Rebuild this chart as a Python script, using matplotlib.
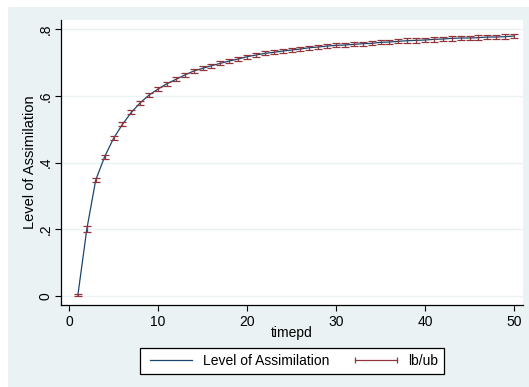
import matplotlib
matplotlib.use("Agg")
import matplotlib.pyplot as plt
from matplotlib.lines import Line2D
from matplotlib.patches import Rectangle

plt.rcParams['font.family'] = ['Liberation Sans', 'DejaVu Sans']

timepd = list(range(1, 51))
level = [0.003, 0.200, 0.347, 0.417, 0.472, 0.514, 0.550, 0.579, 0.602, 0.620,
         0.636, 0.649, 0.662, 0.674, 0.682, 0.690, 0.697, 0.704, 0.710, 0.717,
         0.722, 0.727, 0.730, 0.734, 0.737, 0.740, 0.744, 0.746, 0.749, 0.751,
         0.752, 0.754, 0.756, 0.757, 0.760, 0.761, 0.763, 0.765, 0.766, 0.767,
         0.769, 0.770, 0.772, 0.773, 0.773, 0.774, 0.776, 0.776, 0.777, 0.779]
halfwidth = [0.002, 0.009, 0.006, 0.006, 0.006, 0.006, 0.006, 0.006, 0.006, 0.006,
             0.006, 0.006, 0.006, 0.006, 0.006, 0.006, 0.006, 0.006, 0.006, 0.006,
             0.006, 0.006, 0.006, 0.006, 0.006, 0.006, 0.006, 0.006, 0.006, 0.006,
             0.006, 0.006, 0.006, 0.006, 0.006, 0.006, 0.006, 0.007, 0.007, 0.007,
             0.007, 0.007, 0.007, 0.007, 0.007, 0.007, 0.007, 0.007, 0.007, 0.007]
lb = [v - h for v, h in zip(level, halfwidth)]
ub = [v + h for v, h in zip(level, halfwidth)]

yticks = [0, 0.2, 0.4, 0.6, 0.8]
ytick_labels = ["0", ".2", ".4", ".6", ".8"]
xticks = [0, 10, 20, 30, 40, 50]

navy = "#1A476F"
maroon = "#90353B"
bg = "#EAF2F3"

W, H = 529, 387
fig = plt.figure(figsize=(W / 100, H / 100), dpi=100)
fig.patch.set_facecolor("white")
fig.patches.append(Rectangle((8 / W, 0), 1 - 8 / W, 1 - 7 / H, transform=fig.transFigure,
                             facecolor=bg, edgecolor="none", zorder=-10))

ax_l, ax_r, ax_t, ax_b = 61, 523, 20, 305
ax = fig.add_axes([ax_l / W, 1 - ax_b / H, (ax_r - ax_l) / W, (ax_b - ax_t) / H])
ax.set_facecolor("white")

xs = (514 - 69) / 50.0
ax.set_xlim(-(69 - ax_l) / xs, 50 + (ax_r - 514) / xs)
ys = (296 - 29) / 0.8
ax.set_ylim(-(ax_b - 296) / ys, 0.8 + (29 - ax_t) / ys)

for y in yticks:
    ax.axhline(y, color=bg, lw=1.0, zorder=0)

ax.plot(timepd, level, color=navy, lw=0.9, zorder=2)
ax.errorbar(timepd, level, yerr=[[v - l for v, l in zip(level, lb)], [u - v for v, u in zip(level, ub)]],
            fmt="none", ecolor=maroon, elinewidth=0.9, capsize=2.9, capthick=0.9, zorder=3)

for s in ["top", "right"]:
    ax.spines[s].set_visible(False)
for s in ["left", "bottom"]:
    ax.spines[s].set_color("black")
    ax.spines[s].set_linewidth(0.9)

ax.set_xticks(xticks)
ax.set_xticklabels([str(x) for x in xticks])
ax.set_yticks(yticks)
ax.set_yticklabels(ytick_labels, rotation=90, va="center")
ax.tick_params(axis="both", direction="out", length=4.5, width=0.8, color="black",
               labelsize=10, labelcolor="black", pad=2.5)
ax.tick_params(axis="y", pad=1.5)

ax.set_xlabel("timepd", fontsize=10, labelpad=0)
ax.xaxis.set_label_coords(((248 + 336) / 2 - ax_l) / (ax_r - ax_l), -(333 - ax_b) / (ax_b - ax_t))
ax.xaxis.label.set_va("center")
ax.set_ylabel("Level of Assimilation", fontsize=10.5)
ax.yaxis.set_label_coords(-(ax_l - 30) / (ax_r - ax_l), 0.5)
ax.yaxis.label.set_va("center")

handles = [Line2D([0], [0], color=navy, lw=0.9),
           Line2D([0], [0], color=maroon, lw=0.9, marker="|", markersize=4, markeredgewidth=0.9)]
leg = fig.legend(handles, ["Level of Assimilation", "lb/ub"], ncol=2, numpoints=2,
                 loc="center", bbox_to_anchor=((141 + 443) / 2 / W, 1 - 361 / H),
                 frameon=True, fancybox=False, edgecolor="black", facecolor="white", framealpha=1,
                 fontsize=10, handlelength=3.6, handletextpad=0.5, columnspacing=1.6,
                 borderpad=0.45, borderaxespad=0)
leg.get_frame().set_linewidth(0.9)

fig.savefig("out.png", dpi=100, facecolor=fig.get_facecolor())
